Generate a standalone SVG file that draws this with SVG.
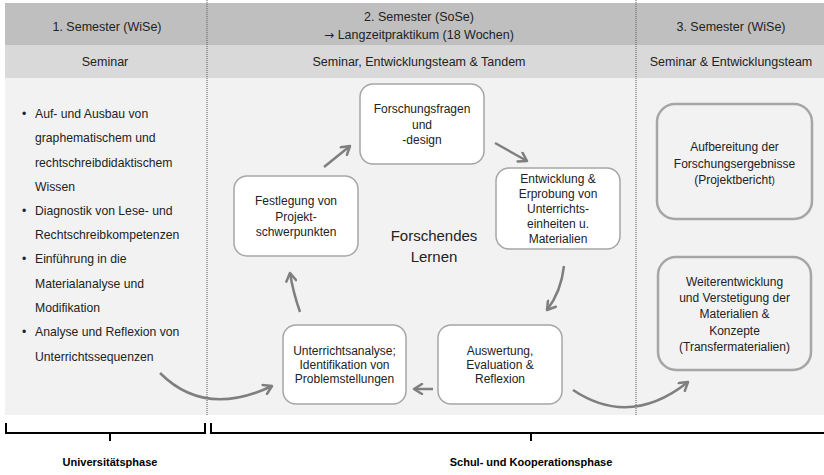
<svg xmlns="http://www.w3.org/2000/svg" width="824" height="475" viewBox="0 0 824 475">
<style>
text{font-family:"Liberation Sans",Arial,sans-serif;fill:#222222}
.h{font-size:12.5px;text-anchor:middle}
.n{font-size:12px;text-anchor:middle}
.l{font-size:12.2px}
.big{font-size:15px;text-anchor:middle}
.lab{font-size:11px;font-weight:bold;text-anchor:middle;fill:#000}
.node{fill:#ffffff;stroke:#a6a6a6;stroke-width:1.5}
.rnode{fill:#f2f2f2;stroke:#a6a6a6;stroke-width:2.5}
.arr{fill:none;stroke:#7f7f7f;stroke-width:2.5;marker-end:url(#ah)}
.div{stroke:#595959;stroke-width:1;stroke-dasharray:1 1}
.br{fill:none;stroke:#000;stroke-width:2}
</style>
<defs>
<marker id="ah" viewBox="-10 -6 12 12" refX="0" refY="0" markerWidth="12" markerHeight="12" markerUnits="userSpaceOnUse" orient="auto">
<path d="M-8,-5 L0,0 L-8,5" fill="none" stroke="#7f7f7f" stroke-width="2.5" stroke-linecap="round" stroke-linejoin="round"/>
</marker>
</defs>
<rect x="0" y="0" width="824" height="475" fill="#ffffff"/>
<g id="background">
<rect x="5" y="3" width="819" height="42" fill="#bfbfbf"/>
<rect x="5" y="45" width="819" height="33" fill="#d9d9d9"/>
<rect x="5" y="78" width="819" height="337" fill="#f2f2f2"/>
<line class="div" x1="207" y1="0" x2="207" y2="415"/>
<line class="div" x1="636" y1="0" x2="636" y2="415"/>
</g>
<g id="headers">
<text class="h" x="107" y="31">1. Semester (WiSe)</text>
<text class="h" x="419" y="21">2. Semester (SoSe)</text>
<text class="h" x="419" y="39"><tspan font-family="DejaVu Sans, sans-serif" font-size="12px">→</tspan> Langzeitpraktikum (18 Wochen)</text>
<text class="h" x="731" y="31">3. Semester (WiSe)</text>
<text class="h" x="105" y="66">Seminar</text>
<text class="h" x="419" y="66">Seminar, Entwicklungsteam &amp; Tandem</text>
<text class="h" x="731" y="66">Seminar &amp; Entwicklungsteam</text>
</g>
<g id="list">
<text class="l" x="22" y="118">•</text>
<text class="l" x="35" y="118">Auf- und Ausbau von</text>
<text class="l" x="35" y="142">graphematischem und</text>
<text class="l" x="35" y="167">rechtschreibdidaktischem</text>
<text class="l" x="35" y="191">Wissen</text>
<text class="l" x="22" y="215">•</text>
<text class="l" x="35" y="215">Diagnostik von Lese- und</text>
<text class="l" x="35" y="239">Rechtschreibkompetenzen</text>
<text class="l" x="22" y="263">•</text>
<text class="l" x="35" y="263">Einführung in die</text>
<text class="l" x="35" y="288">Materialanalyse und</text>
<text class="l" x="35" y="312">Modifikation</text>
<text class="l" x="22" y="336">•</text>
<text class="l" x="35" y="336">Analyse und Reflexion von</text>
<text class="l" x="35" y="361">Unterrichtssequenzen</text>
</g>
<g id="connectors">
<path class="arr" d="M324,167 L350,146"/>
<path class="arr" d="M495,143 L527,161"/>
<path class="arr" d="M564,266 Q561,292 547,310"/>
<path class="arr" d="M433,389 L414,389"/>
<path class="arr" d="M300,312 Q293,292 290,273"/>
<path class="arr" d="M160,373 Q205,418 272,386"/>
<path class="arr" d="M573,390 Q630,428 688,382"/>
</g>
<g id="n-forschungsfragen">
<rect class="node" x="360" y="84" width="124" height="80" rx="13"/>
<text class="n" x="422" y="113">Forschungsfragen</text>
<text class="n" x="422" y="128.5">und</text>
<text class="n" x="422" y="144">-design</text>
</g>
<g id="n-festlegung">
<rect class="node" x="234" y="176" width="124" height="80" rx="13"/>
<text class="n" x="296" y="205">Festlegung von</text>
<text class="n" x="296" y="220.5">Projekt-</text>
<text class="n" x="296" y="236">schwerpunkten</text>
</g>
<g id="n-forschendes">
<text class="big" x="434" y="241">Forschendes</text>
<text class="big" x="434" y="262">Lernen</text>
</g>
<g id="n-entwicklung">
<rect class="node" x="496" y="168" width="124" height="81" rx="13"/>
<text class="n" x="558" y="183">Entwicklung &amp;</text>
<text class="n" x="558" y="198">Erprobung von</text>
<text class="n" x="558" y="213">Unterrichts-</text>
<text class="n" x="558" y="228">einheiten u.</text>
<text class="n" x="558" y="243">Materialien</text>
</g>
<g id="n-auswertung">
<rect class="node" x="438" y="325" width="124" height="79" rx="13"/>
<text class="n" x="500" y="355">Auswertung,</text>
<text class="n" x="500" y="369">Evaluation &amp;</text>
<text class="n" x="500" y="383">Reflexion</text>
</g>
<g id="n-unterrichtsanalyse">
<rect class="node" x="283" y="325" width="123" height="79" rx="13"/>
<text class="n" x="344.5" y="355">Unterrichtsanalyse;</text>
<text class="n" x="344.5" y="369">Identifikation von</text>
<text class="n" x="344.5" y="383">Problemstellungen</text>
</g>
<g id="n-aufbereitung">
<rect class="rnode" x="657" y="104" width="155" height="115" rx="18"/>
<text class="n" x="734.5" y="151">Aufbereitung der</text>
<text class="n" x="734.5" y="168">Forschungsergebnisse</text>
<text class="n" x="734.5" y="184">(Projektbericht<tspan font-size="10px">)</tspan></text>
</g>
<g id="n-weiterentwicklung">
<rect class="rnode" x="658" y="257" width="153" height="113" rx="18"/>
<text class="n" x="734.5" y="286">Weiterentwicklung</text>
<text class="n" x="734.5" y="302">und Verstetigung der</text>
<text class="n" x="734.5" y="318">Materialien &amp;</text>
<text class="n" x="734.5" y="335">Konzepte</text>
<text class="n" x="734.5" y="351">(Transfermaterialien)</text>
</g>
<g id="brackets">
<path class="br" d="M6,423 L6,433 L205,433 L205,423 M110,433 L110,441"/>
<path class="br" d="M211,423 L211,433 L824,433 M531,433 L531,441"/>
<text class="lab" x="110" y="466">Universitätsphase</text>
<text class="lab" x="531" y="466">Schul- und Kooperationsphase</text>
</g>
</svg>
